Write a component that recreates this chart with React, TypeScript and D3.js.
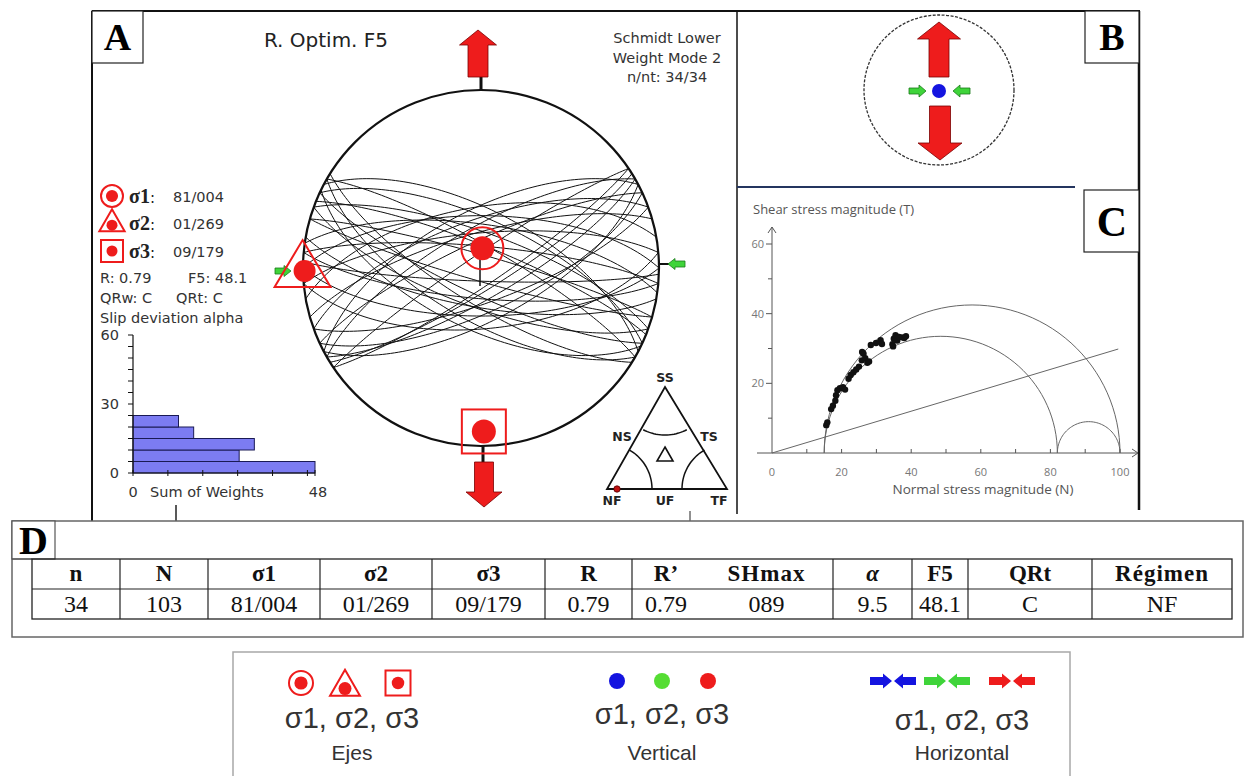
import * as React from "react";
import * as d3 from "d3";

// fault planes: [dip direction, dip]
const FAULT_PLANES: [number, number][] = [
  [150, 76], [155, 70], [160, 74], [146, 82], [330, 72], [335, 78], [340, 68],
  [326, 84], [152, 66], [344, 74], [148, 80], [332, 64], [20, 74], [25, 68],
  [30, 80], [16, 84], [200, 72], [205, 78], [210, 66], [196, 84], [28, 64],
  [212, 74], [22, 80], [206, 62], [180, 68], [185, 76], [175, 62], [0, 66],
  [355, 74], [5, 80], [182, 84], [8, 70], [350, 62], [190, 72],
];

const STRESS_AXES = [
  { id: "σ1", plunge: 81, trend: 4, label: "81/004" },
  { id: "σ2", plunge: 1, trend: 269, label: "01/269" },
  { id: "σ3", plunge: 9, trend: 179, label: "09/179" },
];

const SLIP_BINS = [0, 5, 10, 15, 20];
const SLIP_WEIGHTS = [48, 28, 32, 16, 12];
const SLIP_Y_LABELS = [0, 30, 60];
const SLIP_X_TICKS = [0, 9.2, 18.4, 27.6, 36.8, 46, 48];

const MOHR_STRESSES = [100, 82, 15];
const FRICTION = 0.3;
const MOHR_POINTS: [number, number][] = [
  [15.6, 8.0], [15.9, 8.8], [17.0, 12.6], [17.5, 13.6], [18.2, 15.0], [18.4, 16.6],
  [18.8, 18.0], [19.5, 18.6], [20.4, 18.9], [21.0, 18.2], [22.0, 21.3], [22.6, 22.4],
  [23.4, 23.2], [24.2, 24.0], [25.0, 24.8], [25.8, 26.6], [26.3, 28.5], [26.8, 27.2],
  [27.4, 25.9], [27.9, 26.3], [25.9, 29.0], [28.4, 31.0], [31.2, 32.4], [31.6, 31.3],
  [34.6, 31.2], [35.0, 32.8], [35.5, 33.8], [36.0, 32.3], [36.5, 33.3], [37.4, 33.2],
  [38.0, 33.0], [38.5, 33.5], [34.8, 30.6], [29.9, 31.6],
];
const MOHR_X_LABELS = [0, 20, 40, 60, 80, 100];
const MOHR_Y_LABELS = [20, 40, 60];

const TABLE_HEADERS = ["n", "N", "σ1", "σ2", "σ3", "R", "R’", "SHmax", "α", "F5", "QRt", "Régimen"];
const TABLE_VALUES = ["34", "103", "81/004", "01/269", "09/179", "0.79", "0.79", "089", "9.5", "48.1", "C", "NF"];

const RED = "#ee1c1c";
const GREEN = "#3fd43a";
const BLUE = "#1414e0";
const SANS = "DejaVu Sans, Verdana, sans-serif";
const SERIF = "Liberation Serif, Times New Roman, serif";

const NET = { cx: 481, cy: 268, r: 178 };
const rad = Math.PI / 180;

function project(trend: number, plunge: number): [number, number] {
  const rr = NET.r * Math.SQRT2 * Math.sin(((90 - plunge) * rad) / 2);
  return [NET.cx + rr * Math.sin(trend * rad), NET.cy - rr * Math.cos(trend * rad)];
}

function greatCircle(dipDir: number, dip: number): [number, number][] {
  const strike = (dipDir - 90) * rad;
  const s = [Math.sin(strike), Math.cos(strike), 0];
  const d = [Math.cos(dip * rad) * Math.sin(dipDir * rad), Math.cos(dip * rad) * Math.cos(dipDir * rad), Math.sin(dip * rad)];
  return d3.range(0, 181, 2).map((t) => {
    const c = Math.cos(t * rad), sn = Math.sin(t * rad);
    const v = [c * s[0] + sn * d[0], c * s[1] + sn * d[1], c * s[2] + sn * d[2]];
    const plunge = Math.asin(Math.min(1, Math.max(-1, v[2]))) / rad;
    const trend = Math.atan2(v[0], v[1]) / rad;
    return project(trend, plunge);
  });
}

function vArrow(cx: number, tip: number, dir: number, len: number, hl: number, hw: number, sw: number) {
  const hb = tip - dir * hl, tail = tip - dir * len;
  return `M${cx},${tip}L${cx + hw / 2},${hb}L${cx + sw / 2},${hb}L${cx + sw / 2},${tail}L${cx - sw / 2},${tail}L${cx - sw / 2},${hb}L${cx - hw / 2},${hb}Z`;
}
function hArrow(tip: number, cy: number, dir: number, len: number, hl: number, hw: number, sw: number) {
  const hb = tip - dir * hl, tail = tip - dir * len;
  return `M${tip},${cy}L${hb},${cy - hw / 2}L${hb},${cy - sw / 2}L${tail},${cy - sw / 2}L${tail},${cy + sw / 2}L${hb},${cy + sw / 2}L${hb},${cy + hw / 2}Z`;
}

function AxisIcon({ kind, x, y, s }: { kind: number; x: number; y: number; s: number }) {
  if (kind === 0)
    return (
      <g>
        <circle cx={x} cy={y} r={s} fill="none" stroke={RED} strokeWidth={2} />
        <circle cx={x} cy={y} r={s * 0.55} fill={RED} />
      </g>
    );
  if (kind === 1)
    return (
      <g>
        <path d={`M${x},${y - s * 1.25}L${x + s * 1.15},${y + s * 0.75}L${x - s * 1.15},${y + s * 0.75}Z`} fill="none" stroke={RED} strokeWidth={2} />
        <circle cx={x} cy={y + s * 0.2} r={s * 0.5} fill={RED} />
      </g>
    );
  return (
    <g>
      <rect x={x - s} y={y - s} width={2 * s} height={2 * s} fill="none" stroke={RED} strokeWidth={2} />
      <circle cx={x} cy={y} r={s * 0.5} fill={RED} />
    </g>
  );
}

export default function App() {
  const line = d3.line();

  // histogram scales
  const hx = d3.scaleLinear().domain([0, 48]).range([133, 315]);
  const hy = d3.scaleLinear().domain([0, 60]).range([473, 335]);

  // Mohr scales
  const mx = d3.scaleLinear().domain([0, 100]).range([772, 1120]);
  const my = d3.scaleLinear().domain([0, 60]).range([453, 244]);
  const [s1, s2, s3] = MOHR_STRESSES;
  const mohrCircles = [
    [s3, s1],
    [s3, s2],
    [s2, s1],
  ].map(([a, b]) => {
    const c = (a + b) / 2, r = (b - a) / 2;
    return line(d3.range(0, 181, 3).map((t) => [mx(c + r * Math.cos(t * rad)), my(r * Math.sin(t * rad))]));
  });

  const axesPos = STRESS_AXES.map((a) => project(a.trend, a.plunge));

  // table columns
  const colEdges = [32, 120, 208, 320, 432, 545, 632, 700, 833, 912, 968, 1092, 1232];

  // ternary
  const tri = { ax: 665, ay: 387, lx: 607, rx: 727, by: 489 };
  const arc = (cx: number, cy: number, r: number, a0: number, a1: number) =>
    line(d3.range(a0, a1 + 0.1, (a1 - a0) / 20).map((a) => [cx + r * Math.cos(a * rad), cy + r * Math.sin(a * rad)]));

  return (
    <svg width={1248} height={776} style={{ position: "fixed", left: 0, top: 0, background: "#fff" }}>
      <rect width={1248} height={776} fill="#fff" />

      {/* ===== frames A / B / C ===== */}
      <line x1={92} y1={11} x2={1140} y2={11} stroke="#111" strokeWidth={2} />
      <line x1={92} y1={11} x2={92} y2={521} stroke="#111" strokeWidth={2} />
      <line x1={737} y1={11} x2={737} y2={514} stroke="#111" strokeWidth={1.5} />
      <line x1={1139} y1={11} x2={1139} y2={510} stroke="#111" strokeWidth={2.5} />
      <line x1={737} y1={187} x2={1075} y2={187} stroke="#24355f" strokeWidth={2} />
      <line x1={176} y1={505} x2={176} y2={521} stroke="#222" strokeWidth={1.5} />
      <line x1={690} y1={511} x2={690} y2={521} stroke="#222" strokeWidth={1} />

      <rect x={92} y={11} width={51} height={52} fill="#fff" stroke="#222" strokeWidth={1.2} />
      <text x={117.5} y={50} textAnchor="middle" fontFamily={SERIF} fontWeight="bold" fontSize={38}>A</text>
      <rect x={1085} y={11} width={54} height={52} fill="#fff" stroke="#222" strokeWidth={1.2} />
      <text x={1112} y={50} textAnchor="middle" fontFamily={SERIF} fontWeight="bold" fontSize={38}>B</text>
      <rect x={1084} y={190} width={55} height={62} fill="#fff" stroke="#222" strokeWidth={1.2} />
      <text x={1112} y={236} textAnchor="middle" fontFamily={SERIF} fontWeight="bold" fontSize={42}>C</text>

      {/* ===== Panel A ===== */}
      <text x={326} y={47} textAnchor="middle" fontFamily={SANS} fontSize={20} fill="#222">R. Optim. F5</text>
      {["Schmidt Lower", "Weight Mode 2", "n/nt: 34/34"].map((t, i) => (
        <text key={t} x={667} y={43 + i * 19.5} textAnchor="middle" fontFamily={SANS} fontSize={14.5} fill="#333">{t}</text>
      ))}

      {/* stereonet */}
      <g>
        {FAULT_PLANES.map(([dd, dip], i) => (
          <path key={i} d={line(greatCircle(dd, dip)) || ""} fill="none" stroke="#111" strokeWidth={1} />
        ))}
        <circle cx={NET.cx} cy={NET.cy} r={NET.r} fill="none" stroke="#111" strokeWidth={2.2} />
      </g>

      {/* stems & arrows */}
      <line x1={481} y1={NET.cy - NET.r} x2={481} y2={76} stroke="#111" strokeWidth={3} />
      <path d={vArrow(478, 30, -1, 47, 15, 37, 20)} fill={RED} stroke="#7a0000" strokeWidth={0.8} />
      <line x1={483} y1={NET.cy + NET.r - 1} x2={483} y2={463} stroke="#111" strokeWidth={3} />
      <path d={vArrow(484, 507, 1, 45, 15, 36, 19)} fill={RED} stroke="#7a0000" strokeWidth={0.8} />
      <line x1={NET.cx + NET.r} y1={264} x2={669} y2={264} stroke="#111" strokeWidth={2} />
      <path d={hArrow(668, 264, -1, 17, 7, 11, 6)} fill={GREEN} stroke="#1b7a1b" strokeWidth={0.8} />
      <path d={hArrow(291, 271, 1, 16, 7, 11, 6)} fill={GREEN} stroke="#1b7a1b" strokeWidth={0.8} />
      <line x1={480} y1={258} x2={480} y2={286} stroke="#111" strokeWidth={1.5} />

      {/* stress axes */}
      <circle cx={axesPos[0][0]} cy={axesPos[0][1]} r={21} fill="none" stroke={RED} strokeWidth={2} />
      <circle cx={axesPos[0][0]} cy={axesPos[0][1]} r={12} fill={RED} />
      <path
        d={`M${axesPos[1][0] - 2},${axesPos[1][1] - 31}L${axesPos[1][0] + 26},${axesPos[1][1] + 16}L${axesPos[1][0] - 30},${axesPos[1][1] + 16}Z`}
        fill="none" stroke={RED} strokeWidth={2}
      />
      <circle cx={axesPos[1][0]} cy={axesPos[1][1]} r={11} fill={RED} />
      <rect x={axesPos[2][0] - 22} y={axesPos[2][1] - 22} width={44} height={44} fill="none" stroke={RED} strokeWidth={2} />
      <circle cx={axesPos[2][0]} cy={axesPos[2][1]} r={12} fill={RED} />

      {/* axis legend */}
      {STRESS_AXES.map((a, i) => {
        const y = [196, 223, 251][i];
        return (
          <g key={a.id}>
            <AxisIcon kind={i} x={112} y={y} s={11} />
            <text x={129} y={y + 7} fontFamily={SERIF} fontWeight="bold" fontSize={20} fill="#222">
              {a.id}
              <tspan fontFamily={SANS} fontWeight="normal" fontSize={15}>:</tspan>
            </text>
            <text x={173} y={y + 6} fontFamily={SANS} fontSize={14.5} fill="#333">{a.label}</text>
          </g>
        );
      })}
      <text x={100} y={283} fontFamily={SANS} fontSize={14.5} fill="#333">R: 0.79</text>
      <text x={188} y={283} fontFamily={SANS} fontSize={14.5} fill="#333">F5: 48.1</text>
      <text x={100} y={303} fontFamily={SANS} fontSize={14.5} fill="#333">QRw: C</text>
      <text x={176} y={303} fontFamily={SANS} fontSize={14.5} fill="#333">QRt: C</text>
      <text x={100} y={323} fontFamily={SANS} fontSize={14.5} fill="#333">Slip deviation alpha</text>

      {/* histogram */}
      {SLIP_BINS.map((b, i) => (
        <rect key={b} x={hx(0)} y={hy(b + 5)} width={hx(SLIP_WEIGHTS[i]) - hx(0)} height={hy(b) - hy(b + 5)}
          fill="#7c7cf2" stroke="#1a1a55" strokeWidth={1} />
      ))}
      <line x1={hx(0)} y1={hy(0)} x2={hx(0)} y2={hy(60)} stroke="#111" strokeWidth={1.2} />
      <line x1={hx(0)} y1={hy(0)} x2={hx(48)} y2={hy(0)} stroke="#111" strokeWidth={1.2} />
      {d3.range(0, 61, 5).map((v) => (
        <line key={v} x1={hx(0) - 5} x2={hx(0)} y1={hy(v)} y2={hy(v)} stroke="#111" strokeWidth={1} />
      ))}
      {SLIP_X_TICKS.map((v) => (
        <line key={v} x1={hx(v)} x2={hx(v)} y1={hy(0) - 3} y2={hy(0) + 3} stroke="#111" strokeWidth={1} />
      ))}
      {SLIP_Y_LABELS.map((v) => (
        <text key={v} x={119} y={hy(v) + 5} textAnchor="end" fontFamily={SANS} fontSize={14.5} fill="#333">{v}</text>
      ))}
      <text x={hx(0)} y={497} textAnchor="middle" fontFamily={SANS} fontSize={14.5} fill="#333">0</text>
      <text x={150} y={497} fontFamily={SANS} fontSize={14.5} fill="#333">Sum of Weights</text>
      <text x={hx(48) + 3} y={497} textAnchor="middle" fontFamily={SANS} fontSize={14.5} fill="#333">48</text>

      {/* ternary */}
      <path d={`M${tri.ax},${tri.ay}L${tri.rx},${tri.by}L${tri.lx},${tri.by}Z`} fill="none" stroke="#111" strokeWidth={1.8} />
      <path d={arc(tri.ax, tri.ay, 48, 63, 117) || ""} fill="none" stroke="#111" strokeWidth={1.5} />
      <path d={arc(tri.lx, tri.by, 45, -60, 0) || ""} fill="none" stroke="#111" strokeWidth={1.5} />
      <path d={arc(tri.rx, tri.by, 45, 180, 240) || ""} fill="none" stroke="#111" strokeWidth={1.5} />
      <path d={`M665,447L673,461L657,461Z`} fill="none" stroke="#111" strokeWidth={1.6} />
      <circle cx={617} cy={489} r={3.2} fill="#c01010" stroke="#500" strokeWidth={0.8} />
      {[
        ["SS", 665, 382],
        ["NS", 622, 441],
        ["TS", 709, 441],
        ["NF", 612, 505],
        ["UF", 665, 505],
        ["TF", 719, 505],
      ].map(([t, x, y]) => (
        <text key={t as string} x={x as number} y={y as number} textAnchor="middle" fontFamily={SANS} fontWeight="bold" fontSize={12.5} fill="#222">{t}</text>
      ))}

      {/* ===== Panel B ===== */}
      <circle cx={939} cy={90} r={75} fill="none" stroke="#333" strokeWidth={1.3} strokeDasharray="3,1.5" />
      <path d={vArrow(939, 22, -1, 55, 17, 43, 20)} fill={RED} stroke="#7a0000" strokeWidth={0.8} />
      <path d={vArrow(940, 160, 1, 54, 17, 44, 21)} fill={RED} stroke="#7a0000" strokeWidth={0.8} />
      <circle cx={939} cy={91} r={7} fill={BLUE} />
      <path d={hArrow(926, 91, 1, 17, 7, 12, 6)} fill={GREEN} stroke="#1b7a1b" strokeWidth={0.8} />
      <path d={hArrow(953, 91, -1, 17, 7, 12, 6)} fill={GREEN} stroke="#1b7a1b" strokeWidth={0.8} />

      {/* ===== Panel C ===== */}
      <text x={753} y={214} fontFamily="Open Sans, sans-serif" fontSize={13} fill="#555">Shear stress magnitude (T)</text>
      <line x1={mx(0)} y1={my(0)} x2={mx(0)} y2={227} stroke="#555" strokeWidth={1} />
      <path d={`M${mx(0) - 4},233L${mx(0)},227L${mx(0) + 4},233`} fill="none" stroke="#555" strokeWidth={1} />
      <line x1={757} y1={my(0)} x2={1138} y2={my(0)} stroke="#555" strokeWidth={1} />
      <path d={`M1132,${my(0) - 4}L1138,${my(0)}L1132,${my(0) + 4}`} fill="none" stroke="#555" strokeWidth={1} />
      {d3.range(10, 101, 10).map((v) => (
        <line key={v} x1={mx(v)} x2={mx(v)} y1={my(0)} y2={my(0) - 4} stroke="#555" strokeWidth={1} />
      ))}
      {d3.range(10, 61, 10).map((v) => (
        <line key={v} x1={mx(0) - (v % 20 === 0 ? 6 : 4)} x2={mx(0)} y1={my(v)} y2={my(v)} stroke="#555" strokeWidth={1} />
      ))}
      {MOHR_X_LABELS.map((v) => (
        <text key={v} x={mx(v)} y={476} textAnchor="middle" fontFamily="Open Sans, sans-serif" fontSize={11} fill="#777">{v}</text>
      ))}
      {MOHR_Y_LABELS.map((v) => (
        <text key={v} x={764} y={my(v) + 4} textAnchor="end" fontFamily="Open Sans, sans-serif" fontSize={11} fill="#777">{v}</text>
      ))}
      <text x={983} y={494} textAnchor="middle" fontFamily="Open Sans, sans-serif" fontSize={13.5} fill="#555">Normal stress magnitude (N)</text>
      {mohrCircles.map((d, i) => (
        <path key={i} d={d || ""} fill="none" stroke="#666" strokeWidth={1} />
      ))}
      <line x1={mx(0)} y1={my(0)} x2={mx(99.5)} y2={my(99.5 * FRICTION)} stroke="#666" strokeWidth={1} />
      {MOHR_POINTS.map(([n, t], i) => (
        <circle key={i} cx={mx(n)} cy={my(t)} r={3.2} fill="#111" />
      ))}

      {/* ===== Panel D ===== */}
      <rect x={12} y={521} width={1231} height={116} fill="none" stroke="#666" strokeWidth={1.5} />
      <rect x={12} y={521} width={43} height={38} fill="#fff" stroke="#555" strokeWidth={1.2} />
      <text x={33.5} y={554} textAnchor="middle" fontFamily={SERIF} fontWeight="bold" fontSize={40}>D</text>
      <line x1={12} y1={559} x2={32} y2={559} stroke="#555" strokeWidth={1.2} />
      <rect x={32} y={559} width={1200} height={60} fill="none" stroke="#222" strokeWidth={1.3} />
      <line x1={32} y1={589} x2={1232} y2={589} stroke="#222" strokeWidth={1.2} />
      {colEdges.slice(1, -1).map((x, i) =>
        x === 700 ? null : <line key={i} x1={x} x2={x} y1={559} y2={619} stroke="#222" strokeWidth={1.2} />
      )}
      {TABLE_HEADERS.map((h, i) => {
        const cx = (colEdges[i] + colEdges[i + 1]) / 2;
        return (
          <g key={h}>
            <text x={cx} y={581} textAnchor="middle" fontFamily={SERIF} fontWeight="bold" fontStyle={h === "α" ? "italic" : "normal"}
              fontSize={23} letterSpacing={h.length > 3 ? 1 : 0} fill="#111">{h}</text>
            <text x={cx} y={612} textAnchor="middle" fontFamily={SERIF} fontSize={24} fill="#111">{TABLE_VALUES[i]}</text>
          </g>
        );
      })}

      {/* ===== Bottom legend ===== */}
      <rect x={233} y={652} width={837} height={140} fill="#fff" stroke="#a8a8a8" strokeWidth={1.5} />
      <AxisIcon kind={0} x={301} y={683} s={12} />
      <AxisIcon kind={1} x={345} y={686} s={13} />
      <AxisIcon kind={2} x={398} y={683} s={12.5} />
      {[
        [617, BLUE],
        [662, "#55dd33"],
        [708, RED],
      ].map(([x, c]) => (
        <circle key={x as number} cx={x as number} cy={681} r={8} fill={c as string} />
      ))}
      {[
        [893, BLUE],
        [947, GREEN],
        [1012, RED],
      ].map(([x, c]) => (
        <g key={x as number}>
          <path d={hArrow((x as number) - 1, 681, 1, 22, 9, 15, 8)} fill={c as string} />
          <path d={hArrow((x as number) + 1, 681, -1, 22, 9, 15, 8)} fill={c as string} />
        </g>
      ))}
      {[
        [352, "Ejes", 728],
        [662, "Vertical", 724],
        [962, "Horizontal", 730],
      ].map(([x, t, y]) => (
        <g key={t as string}>
          <text x={x as number} y={y as number} textAnchor="middle" fontFamily="Liberation Sans, Arial, sans-serif" fontSize={29} fill="#333">σ1, σ2, σ3</text>
          <text x={x as number} y={760} textAnchor="middle" fontFamily="Liberation Sans, Arial, sans-serif" fontSize={21} fill="#333">{t}</text>
        </g>
      ))}
    </svg>
  );
}
